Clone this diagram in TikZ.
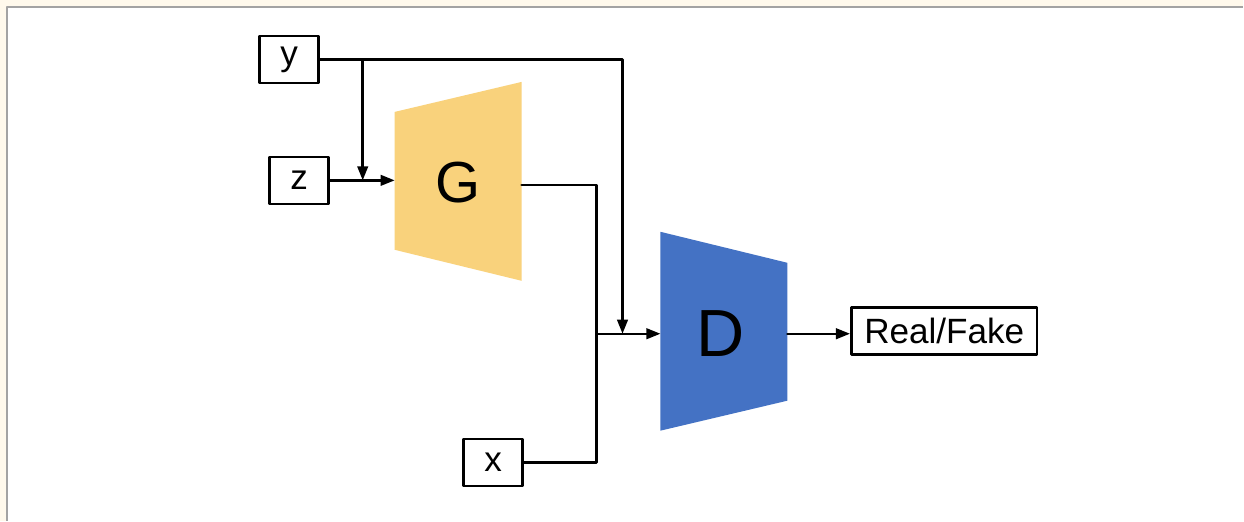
\documentclass[tikz,border=0pt]{standalone}
\usepackage{fontspec}
\setmainfont{Liberation Sans}
\usetikzlibrary{arrows.meta}
\definecolor{bgcream}{HTML}{FFF9EC}
\definecolor{framegray}{HTML}{A3A3A3}
\definecolor{genfill}{HTML}{F9D27C}
\definecolor{disfill}{HTML}{4472C4}
\begin{document}
\begin{tikzpicture}[line join=round, line cap=round,>={Triangle[length=8pt,width=6pt]},x=0.02cm,y=-0.02cm,line width=1.4pt]
	\tikzset{box/.style={draw,line width=1.5pt,inner sep=0pt,minimum width=1.18cm,minimum height=0.94cm,font=\fontsize{20}{24}\selectfont}}
	% frame
	\fill[bgcream] (0,0) rectangle (1244,521);
	\fill[white] (7,7) rectangle (1244,521);
	\draw[framegray,line width=1.13pt,line cap=butt] (7,521)--(7,7)--(1244,7);
	\useasboundingbox (0,0) rectangle (1244,521);
	% inputs and output
	\foreach \n/\t/\px/\py in {yb/y/289.5/59.5,zb/z/299.5/180.5,xb/x/493.5/463}
	\node[box] (\n) at (\px,\py) {\t};
	\node[box,minimum width=3.72cm] (rf) at (945,331.5) {Real/Fake};
	% G and D
	\fill[genfill] (395,112)--(522,82)--(522,281)--(395,250)--cycle;
	\fill[disfill] (661,232)--(788,263)--(788,401)--(661,431)--cycle;
	\node[font=\fontsize{33}{38}\selectfont] (G) at (458,183) {G};
	\node[font=\fontsize{38}{44}\selectfont] (D) at (721,334) {D};
	\coordinate (Gin) at (395,181);
	\coordinate (Gout) at (522,185);
	\coordinate (Din) at (661,334);
	\coordinate (Dout) at (788,334);
	\coordinate (ys) at (363,59.5);
	\coordinate (zj) at (363,180.5);
	\coordinate (yj) at (623,334);
	\coordinate (xj) at (597,334);
	% connectors
	\draw[->] (yb.east) -| (yj);
	\draw[->] (ys) -- (zj);
	\draw[->] (zb.east) -- (zb.east -| Gin);
	\draw (Gout) -| (xj) |- (xb.east);
	\draw[->] (xj) -- (Din);
	\draw[->] (Dout) -- (Dout -| rf.west);
\end{tikzpicture}
\end{document}
